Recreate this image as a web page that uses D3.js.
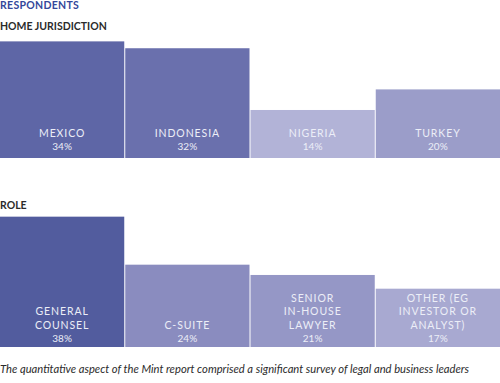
<!DOCTYPE html>
<html><head><meta charset="utf-8">
<script src="https://cdn.jsdelivr.net/npm/d3@7"></script>
<style>body{margin:0;background:#fff}svg{display:block}</style>
</head><body>
<script>
const title = "RESPONDENTS";
const panel1Title = "HOME JURISDICTION";
const jurisdictions = ["MEXICO", "INDONESIA", "NIGERIA", "TURKEY"];
const jurisdictionValues = [34, 32, 14, 20];
const jurisdictionColors = ["#5e66a6", "#6a70ad", "#b2b3d7", "#9b9dc9"];
const panel2Title = "ROLE";
const roles = [["GENERAL", "COUNSEL"], ["C-SUITE"], ["SENIOR", "IN-HOUSE", "LAWYER"], ["OTHER (EG", "INVESTOR OR", "ANALYST)"]];
const roleValues = [38, 24, 21, 17];
const roleColors = ["#525c9e", "#8a8cbf", "#9597c6", "#a8a9d1"];
const caption = "The quantitative aspect of the Mint report comprised a significant survey of legal and business leaders";

const W = 500, H = 383;
const svg = d3.select("body").append("svg").attr("width", W).attr("height", H);
const font = "Lato, 'Open Sans', sans-serif";

svg.append("text").attr("x", 0).attr("y", 8.5).text(title)
  .attr("font-family", font).attr("font-weight", 700).attr("font-size", 10.5)
  .attr("fill", "#34479a").attr("letter-spacing", 0.3);

function panel(heading, headingY, labels, values, colors, baseY, pctOffset) {
  svg.append("text").attr("x", 0).attr("y", headingY).text(heading)
    .attr("font-family", font).attr("font-weight", 700).attr("font-size", 10.5)
    .attr("fill", "#2b2b2b").attr("letter-spacing", 0);
  const x = d3.scaleBand().domain(d3.range(labels.length)).range([0, 500]).paddingInner(0.008);
  const y = d3.scaleLinear().domain([0, 100]).range([baseY, baseY - 343]);
  const g = svg.append("g");
  const bars = g.selectAll("g.bar").data(values).join("g");
  bars.append("rect")
    .attr("x", (d, i) => x(i)).attr("width", x.bandwidth())
    .attr("y", d => y(d)).attr("height", d => baseY - y(d))
    .attr("fill", (d, i) => colors[i]);
  bars.append("text")
    .attr("x", (d, i) => x(i) + x.bandwidth() / 2)
    .attr("y", baseY - pctOffset)
    .attr("text-anchor", "middle").attr("font-family", font)
    .attr("font-size", 10).attr("fill", "#eceef7")
    .text(d => d + "%");
  bars.each(function(d, i) {
    const lines = Array.isArray(labels[i]) ? labels[i] : [labels[i]];
    const n = lines.length;
    lines.forEach((ln, j) => {
      d3.select(this).append("text")
        .attr("x", x(i) + x.bandwidth() / 2)
        .attr("y", baseY - pctOffset - 13.5 * (n - j))
        .attr("text-anchor", "middle").attr("font-family", font)
        .attr("font-size", 10.5).attr("letter-spacing", 0.9)
        .attr("fill", "#eceef7").text(ln);
    });
  });
}

panel(panel1Title, 30, jurisdictions, jurisdictionValues, jurisdictionColors, 158, 8);
panel(panel2Title, 208.5, roles, roleValues, roleColors, 347, 5);

svg.append("text").attr("x", 0).attr("y", 373).text(caption)
  .attr("font-family", font).attr("font-style", "italic").attr("font-size", 11.2)
  .attr("fill", "#2b2b2b");
</script>
</body></html>
